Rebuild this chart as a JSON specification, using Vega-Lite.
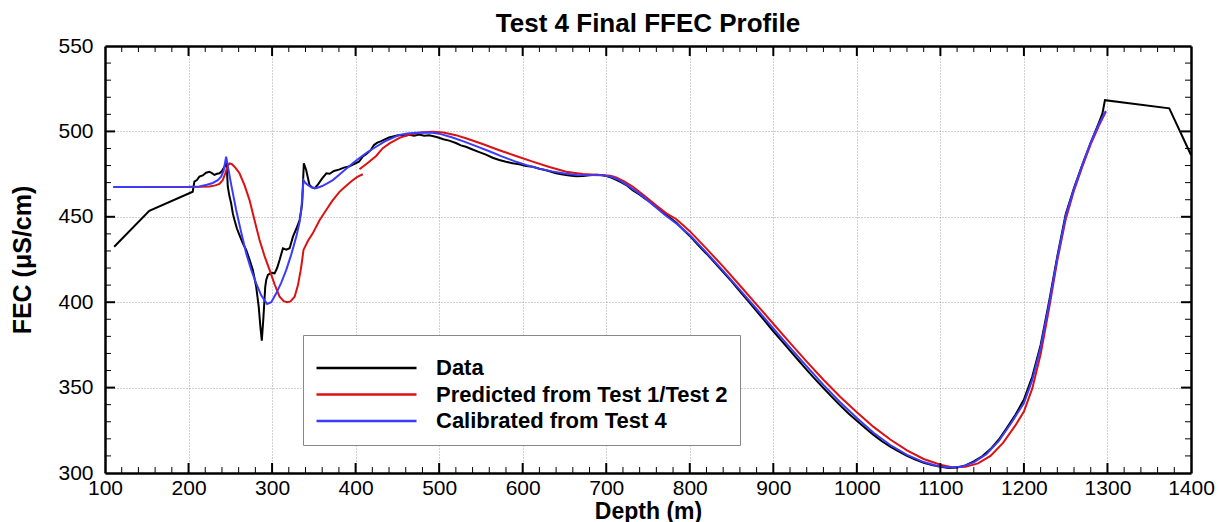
{
  "$schema": "https://vega.github.io/schema/vega-lite/v6.json",
  "width": 1086,
  "height": 427,
  "autosize": {"type": "none"},
  "padding": {"left": 105, "top": 46, "right": 29, "bottom": 49},
  "background": "white",
  "config": {"view": {"stroke": null}, "font": "Liberation Sans"},
  "title": {"text": "Test 4 Final FFEC Profile", "font": "Liberation Sans", "fontSize": 26, "fontWeight": "bold", "color": "#000000", "anchor": "middle", "offset": 8, "dy": 10},
  "resolve": {"axis": {"x": "independent", "y": "independent"}},
  "datasets": {
    "xmajor": [{"t":200},{"t":300},{"t":400},{"t":500},{"t":600},{"t":700},{"t":800},{"t":900},{"t":1000},{"t":1100},{"t":1200},{"t":1300}],
    "xminor": [{"t":120},{"t":140},{"t":160},{"t":180},{"t":220},{"t":240},{"t":260},{"t":280},{"t":320},{"t":340},{"t":360},{"t":380},{"t":420},{"t":440},{"t":460},{"t":480},{"t":520},{"t":540},{"t":560},{"t":580},{"t":620},{"t":640},{"t":660},{"t":680},{"t":720},{"t":740},{"t":760},{"t":780},{"t":820},{"t":840},{"t":860},{"t":880},{"t":920},{"t":940},{"t":960},{"t":980},{"t":1020},{"t":1040},{"t":1060},{"t":1080},{"t":1120},{"t":1140},{"t":1160},{"t":1180},{"t":1220},{"t":1240},{"t":1260},{"t":1280},{"t":1320},{"t":1340},{"t":1360},{"t":1380}],
    "ymajor": [{"t":350},{"t":400},{"t":450},{"t":500}],
    "yminor": [{"t":310},{"t":320},{"t":330},{"t":340},{"t":360},{"t":370},{"t":380},{"t":390},{"t":410},{"t":420},{"t":430},{"t":440},{"t":460},{"t":470},{"t":480},{"t":490},{"t":510},{"t":520},{"t":530},{"t":540}]
  },
  "layer": [
    {
      "data": {"values": [
        {"depth":111,"fec":432.5,"series":"Data","seg":"a"},
        {"depth":153,"fec":453.5,"series":"Data","seg":"a"},
        {"depth":205,"fec":464.7,"series":"Data","seg":"a"},
        {"depth":207,"fec":470.6,"series":"Data","seg":"a"},
        {"depth":210,"fec":471.5,"series":"Data","seg":"a"},
        {"depth":213,"fec":473.5,"series":"Data","seg":"a"},
        {"depth":217,"fec":474.2,"series":"Data","seg":"a"},
        {"depth":221,"fec":475.8,"series":"Data","seg":"a"},
        {"depth":225,"fec":476.4,"series":"Data","seg":"a"},
        {"depth":228,"fec":475.6,"series":"Data","seg":"a"},
        {"depth":231,"fec":474.5,"series":"Data","seg":"a"},
        {"depth":234,"fec":475.2,"series":"Data","seg":"a"},
        {"depth":237,"fec":475.5,"series":"Data","seg":"a"},
        {"depth":240,"fec":476.8,"series":"Data","seg":"a"},
        {"depth":243,"fec":479.3,"series":"Data","seg":"a"},
        {"depth":245.4,"fec":482.3,"series":"Data","seg":"a"},
        {"depth":247,"fec":467.6,"series":"Data","seg":"a"},
        {"depth":249,"fec":462,"series":"Data","seg":"a"},
        {"depth":251,"fec":457.9,"series":"Data","seg":"a"},
        {"depth":253,"fec":452,"series":"Data","seg":"a"},
        {"depth":255,"fec":448.1,"series":"Data","seg":"a"},
        {"depth":258,"fec":443,"series":"Data","seg":"a"},
        {"depth":261,"fec":439.3,"series":"Data","seg":"a"},
        {"depth":265,"fec":434.5,"series":"Data","seg":"a"},
        {"depth":269,"fec":430.6,"series":"Data","seg":"a"},
        {"depth":273,"fec":425,"series":"Data","seg":"a"},
        {"depth":277,"fec":418.9,"series":"Data","seg":"a"},
        {"depth":281,"fec":409,"series":"Data","seg":"a"},
        {"depth":284,"fec":397.4,"series":"Data","seg":"a"},
        {"depth":286,"fec":385.7,"series":"Data","seg":"a"},
        {"depth":287.7,"fec":377.5,"series":"Data","seg":"a"},
        {"depth":289.7,"fec":391.5,"series":"Data","seg":"a"},
        {"depth":291.8,"fec":409,"series":"Data","seg":"a"},
        {"depth":293,"fec":413,"series":"Data","seg":"a"},
        {"depth":295,"fec":416,"series":"Data","seg":"a"},
        {"depth":299,"fec":417.2,"series":"Data","seg":"a"},
        {"depth":303,"fec":416.9,"series":"Data","seg":"a"},
        {"depth":306,"fec":420,"series":"Data","seg":"a"},
        {"depth":309,"fec":424.7,"series":"Data","seg":"a"},
        {"depth":313,"fec":431.6,"series":"Data","seg":"a"},
        {"depth":317,"fec":430.8,"series":"Data","seg":"a"},
        {"depth":321,"fec":431.6,"series":"Data","seg":"a"},
        {"depth":325,"fec":438.4,"series":"Data","seg":"a"},
        {"depth":329,"fec":443,"series":"Data","seg":"a"},
        {"depth":333,"fec":448.1,"series":"Data","seg":"a"},
        {"depth":336,"fec":457.9,"series":"Data","seg":"a"},
        {"depth":338,"fec":481.3,"series":"Data","seg":"a"},
        {"depth":340.8,"fec":477.4,"series":"Data","seg":"a"},
        {"depth":344.8,"fec":468.6,"series":"Data","seg":"a"},
        {"depth":348,"fec":467.2,"series":"Data","seg":"a"},
        {"depth":351,"fec":466.7,"series":"Data","seg":"a"},
        {"depth":355,"fec":469,"series":"Data","seg":"a"},
        {"depth":360,"fec":472.5,"series":"Data","seg":"a"},
        {"depth":365,"fec":475.5,"series":"Data","seg":"a"},
        {"depth":369,"fec":475.2,"series":"Data","seg":"a"},
        {"depth":374,"fec":476.8,"series":"Data","seg":"a"},
        {"depth":380,"fec":477.6,"series":"Data","seg":"a"},
        {"depth":386,"fec":478.8,"series":"Data","seg":"a"},
        {"depth":392,"fec":479.4,"series":"Data","seg":"a"},
        {"depth":398,"fec":480.8,"series":"Data","seg":"a"},
        {"depth":404,"fec":482.3,"series":"Data","seg":"a"},
        {"depth":409,"fec":485.5,"series":"Data","seg":"a"},
        {"depth":413,"fec":486.8,"series":"Data","seg":"a"},
        {"depth":418,"fec":489,"series":"Data","seg":"a"},
        {"depth":422,"fec":492,"series":"Data","seg":"a"},
        {"depth":426,"fec":493.4,"series":"Data","seg":"a"},
        {"depth":430,"fec":494.2,"series":"Data","seg":"a"},
        {"depth":435,"fec":495.3,"series":"Data","seg":"a"},
        {"depth":440,"fec":496.4,"series":"Data","seg":"a"},
        {"depth":446,"fec":497.2,"series":"Data","seg":"a"},
        {"depth":452,"fec":497.9,"series":"Data","seg":"a"},
        {"depth":458,"fec":497.3,"series":"Data","seg":"a"},
        {"depth":464,"fec":498,"series":"Data","seg":"a"},
        {"depth":470,"fec":497.4,"series":"Data","seg":"a"},
        {"depth":476,"fec":498.1,"series":"Data","seg":"a"},
        {"depth":482,"fec":497.5,"series":"Data","seg":"a"},
        {"depth":488,"fec":497.8,"series":"Data","seg":"a"},
        {"depth":492,"fec":497.3,"series":"Data","seg":"a"},
        {"depth":498,"fec":496.6,"series":"Data","seg":"a"},
        {"depth":505,"fec":495.4,"series":"Data","seg":"a"},
        {"depth":512,"fec":494.6,"series":"Data","seg":"a"},
        {"depth":520,"fec":493.2,"series":"Data","seg":"a"},
        {"depth":526,"fec":491.8,"series":"Data","seg":"a"},
        {"depth":532,"fec":491,"series":"Data","seg":"a"},
        {"depth":540,"fec":489.4,"series":"Data","seg":"a"},
        {"depth":548,"fec":487.9,"series":"Data","seg":"a"},
        {"depth":556,"fec":486.4,"series":"Data","seg":"a"},
        {"depth":564,"fec":484.6,"series":"Data","seg":"a"},
        {"depth":572,"fec":483.3,"series":"Data","seg":"a"},
        {"depth":580,"fec":482.2,"series":"Data","seg":"a"},
        {"depth":588,"fec":481.4,"series":"Data","seg":"a"},
        {"depth":596,"fec":480.8,"series":"Data","seg":"a"},
        {"depth":604,"fec":479.7,"series":"Data","seg":"a"},
        {"depth":612,"fec":479.3,"series":"Data","seg":"a"},
        {"depth":620,"fec":478.1,"series":"Data","seg":"a"},
        {"depth":628,"fec":477.2,"series":"Data","seg":"a"},
        {"depth":634,"fec":476.4,"series":"Data","seg":"a"},
        {"depth":640,"fec":475.5,"series":"Data","seg":"a"},
        {"depth":648,"fec":474.7,"series":"Data","seg":"a"},
        {"depth":656,"fec":474.2,"series":"Data","seg":"a"},
        {"depth":664,"fec":473.7,"series":"Data","seg":"a"},
        {"depth":672,"fec":473.9,"series":"Data","seg":"a"},
        {"depth":680,"fec":474.3,"series":"Data","seg":"a"},
        {"depth":688,"fec":474.6,"series":"Data","seg":"a"},
        {"depth":694,"fec":474.5,"series":"Data","seg":"a"},
        {"depth":700,"fec":473.9,"series":"Data","seg":"a"},
        {"depth":706,"fec":473,"series":"Data","seg":"a"},
        {"depth":712,"fec":471.6,"series":"Data","seg":"a"},
        {"depth":718,"fec":470.2,"series":"Data","seg":"a"},
        {"depth":724,"fec":468.6,"series":"Data","seg":"a"},
        {"depth":732,"fec":465.4,"series":"Data","seg":"a"},
        {"depth":740,"fec":463,"series":"Data","seg":"a"},
        {"depth":746,"fec":460.8,"series":"Data","seg":"a"},
        {"depth":752,"fec":458.8,"series":"Data","seg":"a"},
        {"depth":760,"fec":455.6,"series":"Data","seg":"a"},
        {"depth":766,"fec":453.4,"series":"Data","seg":"a"},
        {"depth":772,"fec":451,"series":"Data","seg":"a"},
        {"depth":778,"fec":448.8,"series":"Data","seg":"a"},
        {"depth":784,"fec":446.5,"series":"Data","seg":"a"},
        {"depth":792,"fec":442.6,"series":"Data","seg":"a"},
        {"depth":800,"fec":438.8,"series":"Data","seg":"a"},
        {"depth":810,"fec":433.5,"series":"Data","seg":"a"},
        {"depth":820,"fec":428.4,"series":"Data","seg":"a"},
        {"depth":830,"fec":423,"series":"Data","seg":"a"},
        {"depth":840,"fec":417.6,"series":"Data","seg":"a"},
        {"depth":850,"fec":412.2,"series":"Data","seg":"a"},
        {"depth":860,"fec":406.4,"series":"Data","seg":"a"},
        {"depth":870,"fec":400.6,"series":"Data","seg":"a"},
        {"depth":880,"fec":394.8,"series":"Data","seg":"a"},
        {"depth":890,"fec":389,"series":"Data","seg":"a"},
        {"depth":900,"fec":383,"series":"Data","seg":"a"},
        {"depth":910,"fec":377.3,"series":"Data","seg":"a"},
        {"depth":920,"fec":371.6,"series":"Data","seg":"a"},
        {"depth":930,"fec":366,"series":"Data","seg":"a"},
        {"depth":940,"fec":360.4,"series":"Data","seg":"a"},
        {"depth":950,"fec":355,"series":"Data","seg":"a"},
        {"depth":960,"fec":349.8,"series":"Data","seg":"a"},
        {"depth":970,"fec":344.6,"series":"Data","seg":"a"},
        {"depth":980,"fec":339.6,"series":"Data","seg":"a"},
        {"depth":990,"fec":334.8,"series":"Data","seg":"a"},
        {"depth":1000,"fec":330.6,"series":"Data","seg":"a"},
        {"depth":1010,"fec":326.4,"series":"Data","seg":"a"},
        {"depth":1020,"fec":322.3,"series":"Data","seg":"a"},
        {"depth":1030,"fec":318.6,"series":"Data","seg":"a"},
        {"depth":1040,"fec":315.4,"series":"Data","seg":"a"},
        {"depth":1050,"fec":312.6,"series":"Data","seg":"a"},
        {"depth":1060,"fec":310,"series":"Data","seg":"a"},
        {"depth":1070,"fec":307.8,"series":"Data","seg":"a"},
        {"depth":1080,"fec":306,"series":"Data","seg":"a"},
        {"depth":1090,"fec":304.6,"series":"Data","seg":"a"},
        {"depth":1100,"fec":303.6,"series":"Data","seg":"a"},
        {"depth":1110,"fec":303,"series":"Data","seg":"a"},
        {"depth":1120,"fec":303.2,"series":"Data","seg":"a"},
        {"depth":1130,"fec":304.4,"series":"Data","seg":"a"},
        {"depth":1140,"fec":306.8,"series":"Data","seg":"a"},
        {"depth":1150,"fec":309.8,"series":"Data","seg":"a"},
        {"depth":1160,"fec":314,"series":"Data","seg":"a"},
        {"depth":1170,"fec":319.6,"series":"Data","seg":"a"},
        {"depth":1180,"fec":326.8,"series":"Data","seg":"a"},
        {"depth":1190,"fec":334.2,"series":"Data","seg":"a"},
        {"depth":1200,"fec":343,"series":"Data","seg":"a"},
        {"depth":1210,"fec":356.5,"series":"Data","seg":"a"},
        {"depth":1220,"fec":375,"series":"Data","seg":"a"},
        {"depth":1230,"fec":400,"series":"Data","seg":"a"},
        {"depth":1240,"fec":427,"series":"Data","seg":"a"},
        {"depth":1250,"fec":451.5,"series":"Data","seg":"a"},
        {"depth":1260,"fec":467,"series":"Data","seg":"a"},
        {"depth":1270,"fec":480.5,"series":"Data","seg":"a"},
        {"depth":1280,"fec":493.5,"series":"Data","seg":"a"},
        {"depth":1290,"fec":505.5,"series":"Data","seg":"a"},
        {"depth":1294,"fec":510.5,"series":"Data","seg":"a"},
        {"depth":1297,"fec":518.3,"series":"Data","seg":"a"},
        {"depth":1374,"fec":513.5,"series":"Data","seg":"a"},
        {"depth":1400,"fec":486.2,"series":"Data","seg":"a"},

        {"depth":110,"fec":467.5,"series":"Predicted from Test 1/Test 2","seg":"a"},
        {"depth":200,"fec":467.5,"series":"Predicted from Test 1/Test 2","seg":"a"},
        {"depth":215,"fec":467.6,"series":"Predicted from Test 1/Test 2","seg":"a"},
        {"depth":225,"fec":467.8,"series":"Predicted from Test 1/Test 2","seg":"a"},
        {"depth":232,"fec":468.4,"series":"Predicted from Test 1/Test 2","seg":"a"},
        {"depth":237,"fec":469.2,"series":"Predicted from Test 1/Test 2","seg":"a"},
        {"depth":241,"fec":471.5,"series":"Predicted from Test 1/Test 2","seg":"a"},
        {"depth":244,"fec":475.5,"series":"Predicted from Test 1/Test 2","seg":"a"},
        {"depth":247,"fec":479.8,"series":"Predicted from Test 1/Test 2","seg":"a"},
        {"depth":249,"fec":481.3,"series":"Predicted from Test 1/Test 2","seg":"a"},
        {"depth":252,"fec":480.8,"series":"Predicted from Test 1/Test 2","seg":"a"},
        {"depth":256,"fec":478.8,"series":"Predicted from Test 1/Test 2","seg":"a"},
        {"depth":261,"fec":475.5,"series":"Predicted from Test 1/Test 2","seg":"a"},
        {"depth":267,"fec":468.5,"series":"Predicted from Test 1/Test 2","seg":"a"},
        {"depth":273,"fec":459.8,"series":"Predicted from Test 1/Test 2","seg":"a"},
        {"depth":279,"fec":448,"series":"Predicted from Test 1/Test 2","seg":"a"},
        {"depth":285,"fec":436.4,"series":"Predicted from Test 1/Test 2","seg":"a"},
        {"depth":291,"fec":427,"series":"Predicted from Test 1/Test 2","seg":"a"},
        {"depth":297,"fec":418.9,"series":"Predicted from Test 1/Test 2","seg":"a"},
        {"depth":303,"fec":410.5,"series":"Predicted from Test 1/Test 2","seg":"a"},
        {"depth":309,"fec":403.2,"series":"Predicted from Test 1/Test 2","seg":"a"},
        {"depth":314,"fec":400.6,"series":"Predicted from Test 1/Test 2","seg":"a"},
        {"depth":318,"fec":400,"series":"Predicted from Test 1/Test 2","seg":"a"},
        {"depth":322,"fec":400.5,"series":"Predicted from Test 1/Test 2","seg":"a"},
        {"depth":327,"fec":403.2,"series":"Predicted from Test 1/Test 2","seg":"a"},
        {"depth":331,"fec":410,"series":"Predicted from Test 1/Test 2","seg":"a"},
        {"depth":334,"fec":418,"series":"Predicted from Test 1/Test 2","seg":"a"},
        {"depth":335.5,"fec":422.8,"series":"Predicted from Test 1/Test 2","seg":"a"},
        {"depth":337.6,"fec":430.6,"series":"Predicted from Test 1/Test 2","seg":"a"},
        {"depth":343,"fec":436,"series":"Predicted from Test 1/Test 2","seg":"a"},
        {"depth":348.7,"fec":440.3,"series":"Predicted from Test 1/Test 2","seg":"a"},
        {"depth":356.8,"fec":448,"series":"Predicted from Test 1/Test 2","seg":"a"},
        {"depth":364.8,"fec":454,"series":"Predicted from Test 1/Test 2","seg":"a"},
        {"depth":372,"fec":459.3,"series":"Predicted from Test 1/Test 2","seg":"a"},
        {"depth":380.7,"fec":464.6,"series":"Predicted from Test 1/Test 2","seg":"a"},
        {"depth":384.7,"fec":466.4,"series":"Predicted from Test 1/Test 2","seg":"a"},
        {"depth":395,"fec":470.8,"series":"Predicted from Test 1/Test 2","seg":"a"},
        {"depth":402,"fec":473.4,"series":"Predicted from Test 1/Test 2","seg":"a"},
        {"depth":408.6,"fec":474.9,"series":"Predicted from Test 1/Test 2","seg":"a"},
        {"depth":404.6,"fec":477.8,"series":"Predicted from Test 1/Test 2","seg":"b"},
        {"depth":414,"fec":481.4,"series":"Predicted from Test 1/Test 2","seg":"b"},
        {"depth":424.6,"fec":485.6,"series":"Predicted from Test 1/Test 2","seg":"b"},
        {"depth":432.5,"fec":490.2,"series":"Predicted from Test 1/Test 2","seg":"b"},
        {"depth":440.6,"fec":493,"series":"Predicted from Test 1/Test 2","seg":"b"},
        {"depth":452.5,"fec":496.2,"series":"Predicted from Test 1/Test 2","seg":"b"},
        {"depth":464.5,"fec":498.1,"series":"Predicted from Test 1/Test 2","seg":"b"},
        {"depth":478,"fec":499.4,"series":"Predicted from Test 1/Test 2","seg":"b"},
        {"depth":492,"fec":499.8,"series":"Predicted from Test 1/Test 2","seg":"b"},
        {"depth":505,"fec":499.4,"series":"Predicted from Test 1/Test 2","seg":"b"},
        {"depth":520,"fec":497.8,"series":"Predicted from Test 1/Test 2","seg":"b"},
        {"depth":532,"fec":496,"series":"Predicted from Test 1/Test 2","seg":"b"},
        {"depth":552,"fec":492.6,"series":"Predicted from Test 1/Test 2","seg":"b"},
        {"depth":572,"fec":489,"series":"Predicted from Test 1/Test 2","seg":"b"},
        {"depth":592,"fec":485.6,"series":"Predicted from Test 1/Test 2","seg":"b"},
        {"depth":612,"fec":482.3,"series":"Predicted from Test 1/Test 2","seg":"b"},
        {"depth":632,"fec":479.2,"series":"Predicted from Test 1/Test 2","seg":"b"},
        {"depth":652,"fec":476.4,"series":"Predicted from Test 1/Test 2","seg":"b"},
        {"depth":672,"fec":475,"series":"Predicted from Test 1/Test 2","seg":"b"},
        {"depth":692,"fec":474.5,"series":"Predicted from Test 1/Test 2","seg":"b"},
        {"depth":705,"fec":474,"series":"Predicted from Test 1/Test 2","seg":"b"},
        {"depth":712,"fec":473.1,"series":"Predicted from Test 1/Test 2","seg":"b"},
        {"depth":722,"fec":470.6,"series":"Predicted from Test 1/Test 2","seg":"b"},
        {"depth":732,"fec":467.6,"series":"Predicted from Test 1/Test 2","seg":"b"},
        {"depth":745,"fec":462.6,"series":"Predicted from Test 1/Test 2","seg":"b"},
        {"depth":760,"fec":456.6,"series":"Predicted from Test 1/Test 2","seg":"b"},
        {"depth":772,"fec":452,"series":"Predicted from Test 1/Test 2","seg":"b"},
        {"depth":784,"fec":448.6,"series":"Predicted from Test 1/Test 2","seg":"b"},
        {"depth":800,"fec":441.6,"series":"Predicted from Test 1/Test 2","seg":"b"},
        {"depth":820,"fec":431.4,"series":"Predicted from Test 1/Test 2","seg":"b"},
        {"depth":840,"fec":420.8,"series":"Predicted from Test 1/Test 2","seg":"b"},
        {"depth":860,"fec":409.8,"series":"Predicted from Test 1/Test 2","seg":"b"},
        {"depth":880,"fec":398.6,"series":"Predicted from Test 1/Test 2","seg":"b"},
        {"depth":900,"fec":387.4,"series":"Predicted from Test 1/Test 2","seg":"b"},
        {"depth":920,"fec":376.2,"series":"Predicted from Test 1/Test 2","seg":"b"},
        {"depth":940,"fec":365.2,"series":"Predicted from Test 1/Test 2","seg":"b"},
        {"depth":960,"fec":354.6,"series":"Predicted from Test 1/Test 2","seg":"b"},
        {"depth":980,"fec":344.6,"series":"Predicted from Test 1/Test 2","seg":"b"},
        {"depth":1000,"fec":335.6,"series":"Predicted from Test 1/Test 2","seg":"b"},
        {"depth":1020,"fec":327,"series":"Predicted from Test 1/Test 2","seg":"b"},
        {"depth":1040,"fec":319.6,"series":"Predicted from Test 1/Test 2","seg":"b"},
        {"depth":1060,"fec":313.2,"series":"Predicted from Test 1/Test 2","seg":"b"},
        {"depth":1080,"fec":308.2,"series":"Predicted from Test 1/Test 2","seg":"b"},
        {"depth":1100,"fec":304.8,"series":"Predicted from Test 1/Test 2","seg":"b"},
        {"depth":1115,"fec":303.3,"series":"Predicted from Test 1/Test 2","seg":"b"},
        {"depth":1130,"fec":303.6,"series":"Predicted from Test 1/Test 2","seg":"b"},
        {"depth":1145,"fec":305.6,"series":"Predicted from Test 1/Test 2","seg":"b"},
        {"depth":1160,"fec":310,"series":"Predicted from Test 1/Test 2","seg":"b"},
        {"depth":1175,"fec":317.6,"series":"Predicted from Test 1/Test 2","seg":"b"},
        {"depth":1190,"fec":328,"series":"Predicted from Test 1/Test 2","seg":"b"},
        {"depth":1200,"fec":336,"series":"Predicted from Test 1/Test 2","seg":"b"},
        {"depth":1210,"fec":349.5,"series":"Predicted from Test 1/Test 2","seg":"b"},
        {"depth":1220,"fec":369.5,"series":"Predicted from Test 1/Test 2","seg":"b"},
        {"depth":1230,"fec":396,"series":"Predicted from Test 1/Test 2","seg":"b"},
        {"depth":1240,"fec":424.5,"series":"Predicted from Test 1/Test 2","seg":"b"},
        {"depth":1250,"fec":448.5,"series":"Predicted from Test 1/Test 2","seg":"b"},
        {"depth":1260,"fec":465.5,"series":"Predicted from Test 1/Test 2","seg":"b"},
        {"depth":1270,"fec":479.5,"series":"Predicted from Test 1/Test 2","seg":"b"},
        {"depth":1280,"fec":492.5,"series":"Predicted from Test 1/Test 2","seg":"b"},
        {"depth":1290,"fec":503.5,"series":"Predicted from Test 1/Test 2","seg":"b"},
        {"depth":1298,"fec":511.5,"series":"Predicted from Test 1/Test 2","seg":"b"},

        {"depth":110,"fec":467.5,"series":"Calibrated from Test 4","seg":"a"},
        {"depth":200,"fec":467.6,"series":"Calibrated from Test 4","seg":"a"},
        {"depth":213,"fec":467.8,"series":"Calibrated from Test 4","seg":"a"},
        {"depth":222,"fec":468.8,"series":"Calibrated from Test 4","seg":"a"},
        {"depth":229,"fec":469.8,"series":"Calibrated from Test 4","seg":"a"},
        {"depth":235,"fec":471.4,"series":"Calibrated from Test 4","seg":"a"},
        {"depth":239,"fec":473.5,"series":"Calibrated from Test 4","seg":"a"},
        {"depth":242,"fec":477,"series":"Calibrated from Test 4","seg":"a"},
        {"depth":245,"fec":485.2,"series":"Calibrated from Test 4","seg":"a"},
        {"depth":248,"fec":477,"series":"Calibrated from Test 4","seg":"a"},
        {"depth":251,"fec":469,"series":"Calibrated from Test 4","seg":"a"},
        {"depth":254,"fec":461.5,"series":"Calibrated from Test 4","seg":"a"},
        {"depth":257,"fec":454,"series":"Calibrated from Test 4","seg":"a"},
        {"depth":263,"fec":441,"series":"Calibrated from Test 4","seg":"a"},
        {"depth":269,"fec":428.6,"series":"Calibrated from Test 4","seg":"a"},
        {"depth":275,"fec":419,"series":"Calibrated from Test 4","seg":"a"},
        {"depth":281,"fec":411,"series":"Calibrated from Test 4","seg":"a"},
        {"depth":287,"fec":404,"series":"Calibrated from Test 4","seg":"a"},
        {"depth":294,"fec":399,"series":"Calibrated from Test 4","seg":"a"},
        {"depth":299,"fec":400,"series":"Calibrated from Test 4","seg":"a"},
        {"depth":305,"fec":405.2,"series":"Calibrated from Test 4","seg":"a"},
        {"depth":311,"fec":411.5,"series":"Calibrated from Test 4","seg":"a"},
        {"depth":317,"fec":418.9,"series":"Calibrated from Test 4","seg":"a"},
        {"depth":323,"fec":428,"series":"Calibrated from Test 4","seg":"a"},
        {"depth":329,"fec":438.4,"series":"Calibrated from Test 4","seg":"a"},
        {"depth":333,"fec":447,"series":"Calibrated from Test 4","seg":"a"},
        {"depth":335,"fec":454,"series":"Calibrated from Test 4","seg":"a"},
        {"depth":336.5,"fec":464,"series":"Calibrated from Test 4","seg":"a"},
        {"depth":337.6,"fec":471.5,"series":"Calibrated from Test 4","seg":"a"},
        {"depth":340,"fec":469.8,"series":"Calibrated from Test 4","seg":"a"},
        {"depth":342.8,"fec":468.6,"series":"Calibrated from Test 4","seg":"a"},
        {"depth":347,"fec":467.2,"series":"Calibrated from Test 4","seg":"a"},
        {"depth":352.8,"fec":466.7,"series":"Calibrated from Test 4","seg":"a"},
        {"depth":360,"fec":468,"series":"Calibrated from Test 4","seg":"a"},
        {"depth":366,"fec":469.6,"series":"Calibrated from Test 4","seg":"a"},
        {"depth":372.7,"fec":471.5,"series":"Calibrated from Test 4","seg":"a"},
        {"depth":380,"fec":474.5,"series":"Calibrated from Test 4","seg":"a"},
        {"depth":388,"fec":477.8,"series":"Calibrated from Test 4","seg":"a"},
        {"depth":396.6,"fec":481.3,"series":"Calibrated from Test 4","seg":"a"},
        {"depth":405,"fec":484.6,"series":"Calibrated from Test 4","seg":"a"},
        {"depth":414,"fec":487.8,"series":"Calibrated from Test 4","seg":"a"},
        {"depth":424.6,"fec":491,"series":"Calibrated from Test 4","seg":"a"},
        {"depth":435,"fec":494.2,"series":"Calibrated from Test 4","seg":"a"},
        {"depth":445,"fec":496.4,"series":"Calibrated from Test 4","seg":"a"},
        {"depth":452.5,"fec":497.9,"series":"Calibrated from Test 4","seg":"a"},
        {"depth":462,"fec":498.8,"series":"Calibrated from Test 4","seg":"a"},
        {"depth":472.5,"fec":499.2,"series":"Calibrated from Test 4","seg":"a"},
        {"depth":482,"fec":499.4,"series":"Calibrated from Test 4","seg":"a"},
        {"depth":492,"fec":499.2,"series":"Calibrated from Test 4","seg":"a"},
        {"depth":502,"fec":498.4,"series":"Calibrated from Test 4","seg":"a"},
        {"depth":515,"fec":496.6,"series":"Calibrated from Test 4","seg":"a"},
        {"depth":530,"fec":494,"series":"Calibrated from Test 4","seg":"a"},
        {"depth":545,"fec":491.2,"series":"Calibrated from Test 4","seg":"a"},
        {"depth":560,"fec":488.4,"series":"Calibrated from Test 4","seg":"a"},
        {"depth":575,"fec":485.4,"series":"Calibrated from Test 4","seg":"a"},
        {"depth":590,"fec":482.6,"series":"Calibrated from Test 4","seg":"a"},
        {"depth":605,"fec":480.2,"series":"Calibrated from Test 4","seg":"a"},
        {"depth":620,"fec":478.2,"series":"Calibrated from Test 4","seg":"a"},
        {"depth":635,"fec":476.6,"series":"Calibrated from Test 4","seg":"a"},
        {"depth":650,"fec":475.3,"series":"Calibrated from Test 4","seg":"a"},
        {"depth":665,"fec":474.5,"series":"Calibrated from Test 4","seg":"a"},
        {"depth":680,"fec":474.4,"series":"Calibrated from Test 4","seg":"a"},
        {"depth":695,"fec":474.4,"series":"Calibrated from Test 4","seg":"a"},
        {"depth":705,"fec":473.6,"series":"Calibrated from Test 4","seg":"a"},
        {"depth":715,"fec":471.6,"series":"Calibrated from Test 4","seg":"a"},
        {"depth":725,"fec":468.6,"series":"Calibrated from Test 4","seg":"a"},
        {"depth":740,"fec":463.4,"series":"Calibrated from Test 4","seg":"a"},
        {"depth":755,"fec":457.4,"series":"Calibrated from Test 4","seg":"a"},
        {"depth":770,"fec":451.2,"series":"Calibrated from Test 4","seg":"a"},
        {"depth":785,"fec":445.6,"series":"Calibrated from Test 4","seg":"a"},
        {"depth":800,"fec":439.3,"series":"Calibrated from Test 4","seg":"a"},
        {"depth":820,"fec":429,"series":"Calibrated from Test 4","seg":"a"},
        {"depth":840,"fec":418.3,"series":"Calibrated from Test 4","seg":"a"},
        {"depth":860,"fec":407.2,"series":"Calibrated from Test 4","seg":"a"},
        {"depth":880,"fec":396,"series":"Calibrated from Test 4","seg":"a"},
        {"depth":900,"fec":384.6,"series":"Calibrated from Test 4","seg":"a"},
        {"depth":920,"fec":373.4,"series":"Calibrated from Test 4","seg":"a"},
        {"depth":940,"fec":362.4,"series":"Calibrated from Test 4","seg":"a"},
        {"depth":960,"fec":351.6,"series":"Calibrated from Test 4","seg":"a"},
        {"depth":980,"fec":341.4,"series":"Calibrated from Test 4","seg":"a"},
        {"depth":1000,"fec":332.2,"series":"Calibrated from Test 4","seg":"a"},
        {"depth":1020,"fec":323.6,"series":"Calibrated from Test 4","seg":"a"},
        {"depth":1040,"fec":316.4,"series":"Calibrated from Test 4","seg":"a"},
        {"depth":1060,"fec":310.6,"series":"Calibrated from Test 4","seg":"a"},
        {"depth":1080,"fec":306.4,"series":"Calibrated from Test 4","seg":"a"},
        {"depth":1095,"fec":304.2,"series":"Calibrated from Test 4","seg":"a"},
        {"depth":1110,"fec":303.2,"series":"Calibrated from Test 4","seg":"a"},
        {"depth":1125,"fec":303.6,"series":"Calibrated from Test 4","seg":"a"},
        {"depth":1140,"fec":306.2,"series":"Calibrated from Test 4","seg":"a"},
        {"depth":1155,"fec":311,"series":"Calibrated from Test 4","seg":"a"},
        {"depth":1170,"fec":318.8,"series":"Calibrated from Test 4","seg":"a"},
        {"depth":1185,"fec":329.4,"series":"Calibrated from Test 4","seg":"a"},
        {"depth":1200,"fec":341,"series":"Calibrated from Test 4","seg":"a"},
        {"depth":1210,"fec":354.5,"series":"Calibrated from Test 4","seg":"a"},
        {"depth":1220,"fec":373.5,"series":"Calibrated from Test 4","seg":"a"},
        {"depth":1230,"fec":398.5,"series":"Calibrated from Test 4","seg":"a"},
        {"depth":1240,"fec":426,"series":"Calibrated from Test 4","seg":"a"},
        {"depth":1250,"fec":450.5,"series":"Calibrated from Test 4","seg":"a"},
        {"depth":1260,"fec":466.5,"series":"Calibrated from Test 4","seg":"a"},
        {"depth":1270,"fec":480.5,"series":"Calibrated from Test 4","seg":"a"},
        {"depth":1280,"fec":493.5,"series":"Calibrated from Test 4","seg":"a"},
        {"depth":1290,"fec":504.5,"series":"Calibrated from Test 4","seg":"a"},
        {"depth":1298,"fec":512,"series":"Calibrated from Test 4","seg":"a"}
      ]},
      "mark": {"type": "line", "strokeWidth": 2, "clip": true},
      "encoding": {
        "x": {"field": "depth", "type": "quantitative", "scale": {"domain": [100, 1400], "nice": false, "zero": false},
          "axis": {"orient": "bottom", "values": [100,200,300,400,500,600,700,800,900,1000,1100,1200,1300,1400], "format": "d", "ticks": false, "domain": true, "domainColor": "#000000", "domainWidth": 2.5, "grid": true, "gridDash": [1, 2], "gridColor": "#a0a0a0", "gridWidth": 1, "labelFont": "Liberation Sans", "labelFontSize": 21, "labelColor": "#000000", "labelPadding": 4, "labelFlush": false, "labelOverlap": false, "title": "Depth (m)", "titleFont": "Liberation Sans", "titleFontSize": 23, "titleFontWeight": "bold", "titleColor": "#000000", "titlePadding": 2}},
        "y": {"field": "fec", "type": "quantitative", "scale": {"domain": [300, 550], "nice": false, "zero": false},
          "axis": {"orient": "left", "values": [300,350,400,450,500,550], "format": "d", "ticks": false, "domain": true, "domainColor": "#000000", "domainWidth": 2.5, "grid": true, "gridDash": [1, 2], "gridColor": "#a0a0a0", "gridWidth": 1, "labelFont": "Liberation Sans", "labelFontSize": 21, "labelColor": "#000000", "labelPadding": 12, "labelFlush": false, "labelOverlap": false, "title": "FEC (μS/cm)", "titleFont": "Liberation Sans", "titleFontSize": 25, "titleFontWeight": "bold", "titleColor": "#000000", "titlePadding": 22}},
        "color": {"field": "series", "type": "nominal",
          "scale": {"domain": ["Data", "Predicted from Test 1/Test 2", "Calibrated from Test 4"], "range": ["#000000", "#dd1111", "#3b3bff"]},
          "legend": {"orient": "none", "legendX": 198, "legendY": 289, "title": " ", "titleFontSize": 6, "titlePadding": 3, "padding": 12, "strokeColor": "#888888", "fillColor": "#ffffff", "symbolType": "stroke", "symbolSize": 10000, "symbolStrokeWidth": 2.5, "clipHeight": 24, "rowPadding": 2.5, "labelFont": "Liberation Sans", "labelFontSize": 22, "labelFontWeight": "bold", "labelColor": "#000000", "labelOffset": 18, "labelLimit": 0}},
        "detail": {"field": "seg", "type": "nominal"},
        "order": {"field": "depth", "type": "quantitative"}
      }
    },
    {
      "data": {"values": [{"depth": 100, "fec": 300}]},
      "mark": {"type": "point", "opacity": 0},
      "encoding": {
        "x": {"field": "depth", "type": "quantitative",
          "axis": {"orient": "top", "labels": false, "ticks": false, "grid": false, "title": null, "domain": true, "domainColor": "#000000", "domainWidth": 2.5}},
        "y": {"field": "fec", "type": "quantitative",
          "axis": {"orient": "right", "labels": false, "ticks": false, "grid": false, "title": null, "domain": true, "domainColor": "#000000", "domainWidth": 2.5}}
      }
    },
    {
      "data": {"name": "xmajor"},
      "mark": {"type": "rule", "color": "#000000", "strokeWidth": 2},
      "encoding": {
        "x": {"field": "t", "type": "quantitative", "axis": null},
        "y": {"datum": 300, "type": "quantitative", "axis": null},
        "y2": {"datum": 305.85}
      }
    },
    {
      "data": {"name": "xmajor"},
      "mark": {"type": "rule", "color": "#000000", "strokeWidth": 2},
      "encoding": {
        "x": {"field": "t", "type": "quantitative", "axis": null},
        "y": {"datum": 550, "type": "quantitative", "axis": null},
        "y2": {"datum": 544.15}
      }
    },
    {
      "data": {"name": "xminor"},
      "mark": {"type": "rule", "color": "#000000", "strokeWidth": 1},
      "encoding": {
        "x": {"field": "t", "type": "quantitative", "axis": null},
        "y": {"datum": 300, "type": "quantitative", "axis": null},
        "y2": {"datum": 303.5}
      }
    },
    {
      "data": {"name": "xminor"},
      "mark": {"type": "rule", "color": "#000000", "strokeWidth": 1},
      "encoding": {
        "x": {"field": "t", "type": "quantitative", "axis": null},
        "y": {"datum": 550, "type": "quantitative", "axis": null},
        "y2": {"datum": 546.5}
      }
    },
    {
      "data": {"name": "ymajor"},
      "mark": {"type": "rule", "color": "#000000", "strokeWidth": 2},
      "encoding": {
        "y": {"field": "t", "type": "quantitative", "axis": null},
        "x": {"datum": 100, "type": "quantitative", "axis": null},
        "x2": {"datum": 111.97}
      }
    },
    {
      "data": {"name": "ymajor"},
      "mark": {"type": "rule", "color": "#000000", "strokeWidth": 2},
      "encoding": {
        "y": {"field": "t", "type": "quantitative", "axis": null},
        "x": {"datum": 1400, "type": "quantitative", "axis": null},
        "x2": {"datum": 1388.03}
      }
    },
    {
      "data": {"name": "yminor"},
      "mark": {"type": "rule", "color": "#000000", "strokeWidth": 1},
      "encoding": {
        "y": {"field": "t", "type": "quantitative", "axis": null},
        "x": {"datum": 100, "type": "quantitative", "axis": null},
        "x2": {"datum": 107.18}
      }
    },
    {
      "data": {"name": "yminor"},
      "mark": {"type": "rule", "color": "#000000", "strokeWidth": 1},
      "encoding": {
        "y": {"field": "t", "type": "quantitative", "axis": null},
        "x": {"datum": 1400, "type": "quantitative", "axis": null},
        "x2": {"datum": 1392.82}
      }
    }
  ]
}
